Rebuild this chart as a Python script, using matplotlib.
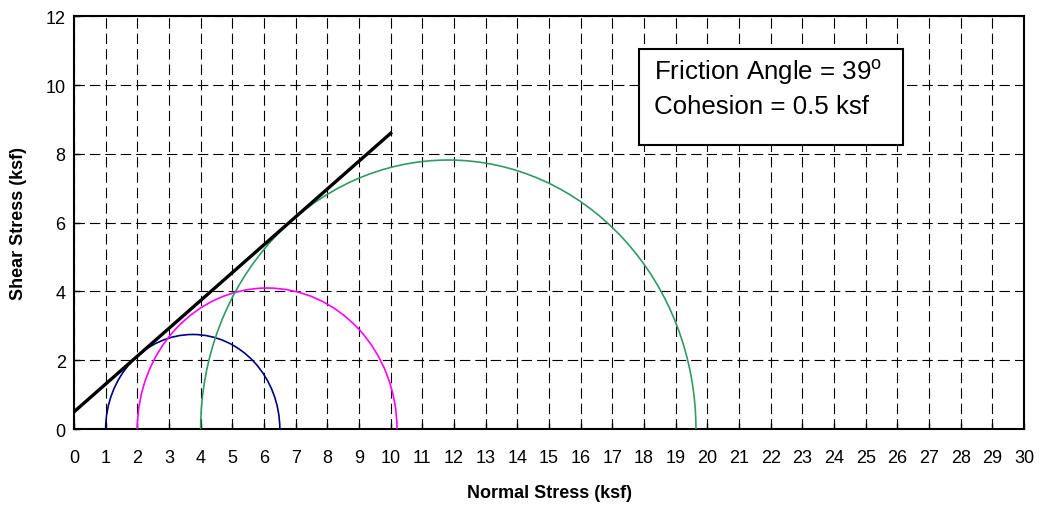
import matplotlib
matplotlib.use("Agg")
import matplotlib.pyplot as plt
from matplotlib.patches import Arc, Rectangle
import numpy as np

plt.rcParams['font.family'] = ['Liberation Sans', 'DejaVu Sans']
plt.rcParams['mathtext.fontset'] = 'custom'
plt.rcParams['mathtext.rm'] = 'Liberation Sans'
plt.rcParams['lines.scale_dashes'] = False

# Mohr circles: minor / major principal stress (ksf)
sigma3 = [1.0, 2.0, 4.0]
sigma1 = [6.5, 10.2, 19.64]
circle_colors = ['#000080', '#FF00FF', '#339966']

# failure envelope
friction_angle = 39.0
cohesion = 0.5
env_x = [0, 10]

x_ticks = list(range(0, 31))
y_ticks = list(range(0, 13, 2))

fig = plt.figure(figsize=(10.39, 5.06), dpi=100)
ax = fig.add_axes([0.0712, 0.150, 0.9144, 0.816])

for s3, s1, c in zip(sigma3, sigma1, circle_colors):
    center = (s1 + s3) / 2
    d = s1 - s3
    ax.add_patch(Arc((center, 0), d, d, theta1=0, theta2=180,
                     color=c, lw=1.2, zorder=3))

env_y = [cohesion + x * np.tan(np.radians(friction_angle)) for x in env_x]
ax.plot(env_x, env_y, color='black', lw=2.4, zorder=4)

ax.set_xlim(0, 30)
ax.set_ylim(0, 12)
ax.set_xticks(x_ticks)
ax.set_yticks(y_ticks)
ax.tick_params(direction='in', length=4, width=1, labelsize=13)
ax.tick_params(axis='x', pad=14)
ax.tick_params(axis='y', pad=6)
ax.grid(True, color='black', lw=0.8, linestyle=(0, (7.5, 3.6)))
ax.set_axisbelow(True)
for sp in ax.spines.values():
    sp.set_linewidth(1.5)

ax.set_xlabel('Normal Stress (ksf)', fontsize=13, fontweight='bold', labelpad=13)
ax.set_ylabel('Shear Stress (ksf)', fontsize=13, fontweight='bold', labelpad=13)

ax.add_patch(Rectangle((0.595, 0.688), 0.278, 0.232, transform=ax.transAxes,
                       facecolor='white', edgecolor='black', lw=1.5, zorder=5))
ax.text(0.611, 0.866, 'Friction Angle = 39$^{\\mathrm{o}}$', transform=ax.transAxes,
        fontsize=18.6, va='center', ha='left', zorder=6)
ax.text(0.611, 0.783, 'Cohesion = 0.5 ksf', transform=ax.transAxes,
        fontsize=18.6, va='center', ha='left', zorder=6)

fig.savefig('out.png', dpi=100)
